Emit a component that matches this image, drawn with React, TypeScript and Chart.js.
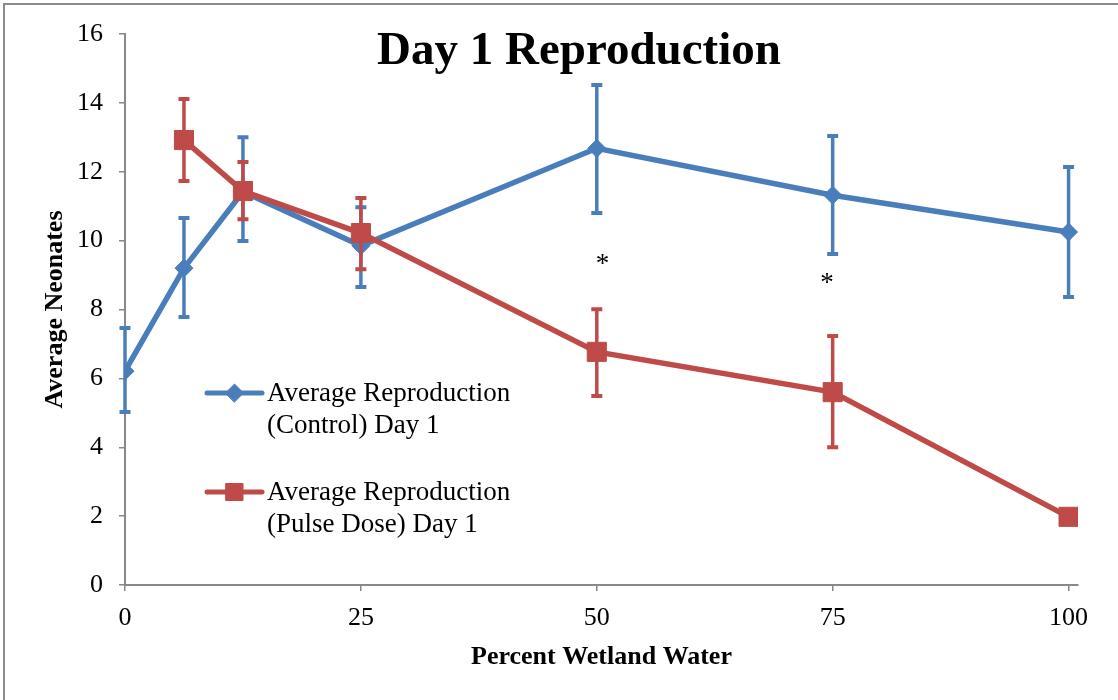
import React, { useEffect, useRef } from 'react';
import { Chart, registerables } from 'chart.js';

Chart.register(...registerables);

const FONT = '"Liberation Serif", "Times New Roman", serif';

// Percent wetland water (x)
const controlX = [0, 6.25, 12.5, 25, 50, 75, 100];
const controlMean = [6.21, 9.2, 11.42, 9.85, 12.68, 11.32, 10.25];
const controlHigh = [7.46, 10.66, 13.0, 10.97, 14.52, 13.04, 12.14];
const controlLow = [5.02, 7.78, 9.99, 8.65, 10.8, 9.61, 8.36];

const pulseX = [6.25, 12.5, 25, 50, 75, 100];
const pulseMean = [12.92, 11.44, 10.22, 6.77, 5.6, 1.98];
const pulseHigh: (number | null)[] = [14.11, 12.28, 11.24, 8.01, 7.23, null];
const pulseLow: (number | null)[] = [11.73, 10.62, 9.17, 5.49, 4.0, null];

const xTicks = [0, 25, 50, 75, 100];

const starX = [50.6, 74.4];
const starY = [9.4, 8.85];

const chartTitle = 'Day 1 Reproduction';
const xTitle = 'Percent Wetland Water';
const yTitle = 'Average Neonates';
const controlLabel = ['Average Reproduction', '(Control) Day 1'];
const pulseLabel = ['Average Reproduction', '(Pulse Dose) Day 1'];

const BLUE = '#4a7ebb';
const RED = '#be4b48';
const AXIS = '#888888';

const errorBars: Record<number, { low: (number | null)[]; high: (number | null)[]; x: number[]; color: string }> = {
  0: { low: pulseLow, high: pulseHigh, x: pulseX, color: RED },
  1: { low: controlLow, high: controlHigh, x: controlX, color: BLUE },
};

const errorBarPlugin = {
  id: 'errorBars',
  afterDatasetDraw(chart: any, args: any) {
    const eb = errorBars[args.index];
    if (!eb) return;
    const { ctx, scales } = chart;
    const xs = scales.x, ys = scales.y;
    ctx.save();
    ctx.strokeStyle = eb.color;
    ctx.lineCap = 'butt';
    eb.x.forEach((xv, i) => {
      const lo = eb.low[i], hi = eb.high[i];
      if (lo == null || hi == null) return;
      const px = xs.getPixelForValue(xv);
      const pl = ys.getPixelForValue(lo);
      const ph = ys.getPixelForValue(hi);
      ctx.lineWidth = 3.5;
      ctx.beginPath();
      ctx.moveTo(px, pl);
      ctx.lineTo(px, ph);
      ctx.stroke();
      ctx.lineWidth = 4;
      ctx.beginPath();
      ctx.moveTo(px - 5.5, pl);
      ctx.lineTo(px + 5.5, pl);
      ctx.moveTo(px - 5.5, ph);
      ctx.lineTo(px + 5.5, ph);
      ctx.stroke();
    });
    ctx.restore();
  },
};

function drawMarker(ctx: CanvasRenderingContext2D, style: string, r: number, x: number, y: number) {
  ctx.beginPath();
  if (style === 'rectRot') {
    ctx.moveTo(x - r, y);
    ctx.lineTo(x, y - r);
    ctx.lineTo(x + r, y);
    ctx.lineTo(x, y + r);
    ctx.closePath();
  } else {
    const s = r * Math.SQRT1_2;
    ctx.rect(x - s, y - s, 2 * s, 2 * s);
  }
  ctx.fill();
  ctx.stroke();
}

const decorPlugin = {
  id: 'decor',
  afterDraw(chart: any) {
    const { ctx, chartArea, scales } = chart;
    ctx.save();
    // frame
    ctx.strokeStyle = '#8c8c8c';
    ctx.lineWidth = 2;
    ctx.strokeRect(4, 4, 1300, 900);

    // title
    ctx.fillStyle = '#000';
    ctx.font = `bold 47px ${FONT}`;
    ctx.textAlign = 'center';
    ctx.textBaseline = 'alphabetic';
    ctx.fillText(chartTitle, chartArea.left + 454, 64);

    // asterisks
    ctx.font = `27px ${FONT}`;
    ctx.textBaseline = 'middle';
    starX.forEach((sx, i) => {
      ctx.fillText('*', scales.x.getPixelForValue(sx), scales.y.getPixelForValue(starY[i]) + 4);
    });

    // legend
    const entries = [
      { label: controlLabel, color: BLUE, style: 'rectRot', r: 9, y: chartArea.top + 359 },
      { label: pulseLabel, color: RED, style: 'rect', r: 12, y: chartArea.top + 458 },
    ];
    const lx0 = chartArea.left + 82;
    const lx1 = chartArea.left + 137;
    entries.forEach((e) => {
      ctx.strokeStyle = e.color;
      ctx.lineWidth = 5;
      ctx.lineCap = 'round';
      ctx.beginPath();
      ctx.moveTo(lx0, e.y);
      ctx.lineTo(lx1, e.y);
      ctx.stroke();
      ctx.fillStyle = e.color;
      ctx.strokeStyle = e.color;
      ctx.lineWidth = 1;
      drawMarker(ctx, e.style, e.r, (lx0 + lx1) / 2, e.y);
      ctx.fillStyle = '#000';
      ctx.font = `27px ${FONT}`;
      ctx.textAlign = 'left';
      ctx.textBaseline = 'middle';
      e.label.forEach((line, j) => {
        ctx.fillText(line, lx1 + 5, e.y + 1 + j * 32);
      });
    });
    ctx.restore();
  },
};

export default function App() {
  const ref = useRef<HTMLCanvasElement>(null);
  useEffect(() => {
    document.body.style.margin = '0';
    const canvas = ref.current!;
    const chart = new Chart(canvas, {
      type: 'scatter',
      data: {
        datasets: [
          {
            label: pulseLabel.join(' '),
            data: pulseX.map((x, i) => ({ x, y: pulseMean[i] })),
            showLine: true,
            borderColor: RED,
            backgroundColor: RED,
            borderWidth: 5.5,
            pointStyle: 'rect',
            pointRadius: 13.5,
            pointBorderWidth: 1,
            pointBackgroundColor: RED,
            pointBorderColor: RED,
            order: 0,
          },
          {
            label: controlLabel.join(' '),
            data: controlX.map((x, i) => ({ x, y: controlMean[i] })),
            showLine: true,
            borderColor: BLUE,
            backgroundColor: BLUE,
            borderWidth: 5.5,
            pointStyle: 'rectRot',
            pointRadius: 9,
            pointBorderWidth: 1,
            pointBackgroundColor: BLUE,
            pointBorderColor: BLUE,
            order: 1,
          },
        ],
      },
      options: {
        animation: false,
        responsive: false,
        maintainAspectRatio: false,
        layout: { padding: { left: 0, top: 34, right: 40, bottom: 0 } },
        plugins: {
          legend: { display: false },
          title: { display: false },
          tooltip: { enabled: false },
        },
        scales: {
          x: {
            type: 'linear',
            min: 0,
            max: 101,
            afterBuildTicks: (scale: any) => {
              scale.ticks = xTicks.map((v) => ({ value: v }));
            },
            afterFit: (scale: any) => {
              scale.height = 115;
            },
            grid: { drawOnChartArea: false, drawTicks: true, tickLength: 6, color: AXIS, lineWidth: 1.5 },
            border: { color: AXIS, width: 2 },
            ticks: { color: '#000', font: { family: FONT, size: 26 }, padding: 12, maxRotation: 0 },
            title: {
              display: true,
              text: xTitle,
              color: '#000',
              font: { family: FONT, size: 26, weight: 'bold' },
              padding: { top: 0, bottom: 27 },
            },
          },
          y: {
            type: 'linear',
            min: 0,
            max: 16,
            ticks: { stepSize: 2, color: '#000', font: { family: FONT, size: 26 }, padding: 16 },
            afterFit: (scale: any) => {
              scale.width = 125;
            },
            grid: { drawOnChartArea: false, drawTicks: true, tickLength: 6, color: AXIS, lineWidth: 1.5 },
            border: { color: AXIS, width: 2 },
            title: {
              display: true,
              text: yTitle,
              color: '#000',
              font: { family: FONT, size: 26, weight: 'bold' },
              padding: { top: 40, bottom: 0 },
            },
          },
        },
      },
      plugins: [errorBarPlugin, decorPlugin],
    });
    return () => chart.destroy();
  }, []);
  return (
    <div style={{ width: 1118, height: 700, background: '#fff' }}>
      <canvas ref={ref} width={1118} height={700} style={{ display: 'block', width: 1118, height: 700 }} />
    </div>
  );
}
